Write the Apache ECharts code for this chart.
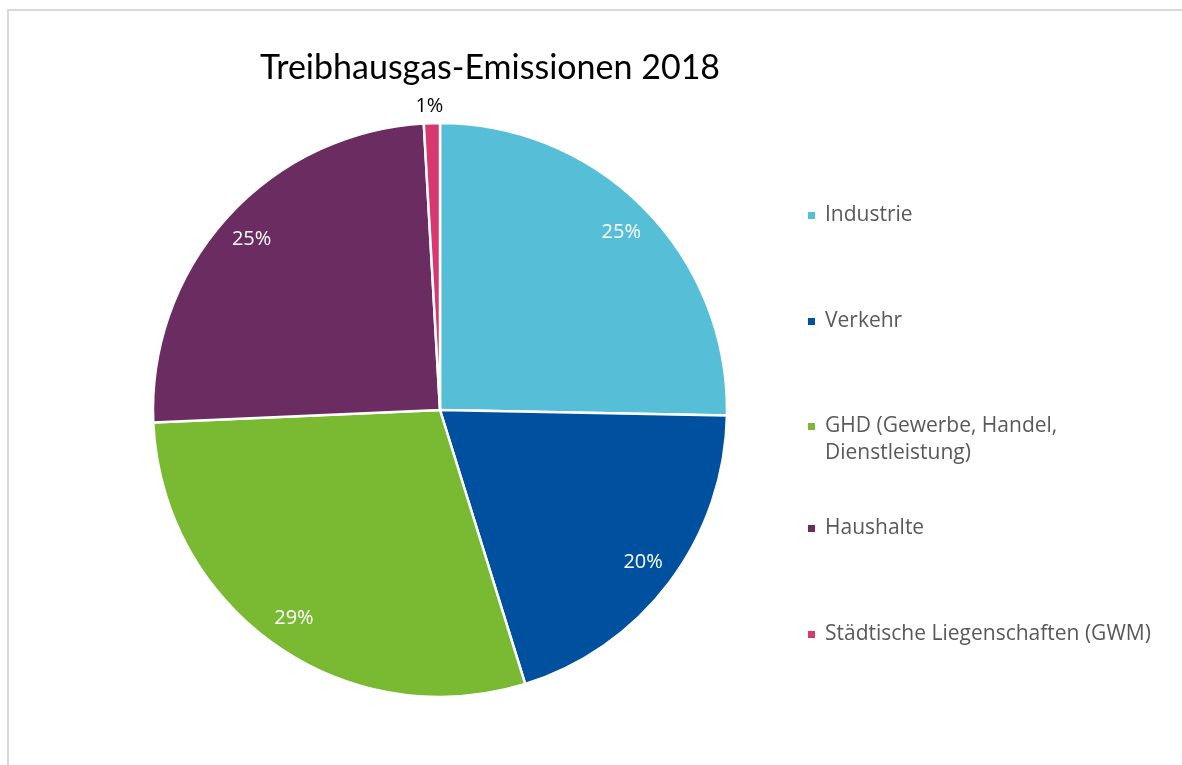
<!DOCTYPE html>
<html>
<head>
<meta charset="utf-8">
<script src="https://cdn.jsdelivr.net/npm/echarts@6/dist/echarts.min.js"></script>
<style>
  html, body { margin: 0; padding: 0; background: #fff; }
  #chart { width: 1182px; height: 765px; }
</style>
</head>
<body>
<div id="chart"></div>
<script>
// data (shares in percent)
const categories = ['Industrie', 'Verkehr', 'GHD (Gewerbe, Handel, Dienstleistung)', 'Haushalte', 'Städtische Liegenschaften (GWM)']
const shares = [25.3, 19.9, 29.1, 24.8, 0.9]
const colors = ['#56BFD7', '#0050A0', '#7AB932', '#6B2C61', '#D6386F']
// legend text as wrapped in the picture (blank first line keeps the marker on the first text line)
const legendLabels = ['Industrie', 'Verkehr', ' \nGHD (Gewerbe, Handel,\nDienstleistung)', 'Haushalte', 'Städtische Liegenschaften (GWM)']

// layout of the legend rows
const legendTops = [202, 308, 386, 515, 621]

const chart = echarts.init(document.getElementById('chart'))

const pieData = categories.map((name, i) => ({
  name: name,
  value: shares[i],
  itemStyle: { color: colors[i] }
}))

const labelData = categories.map((name, i) => {
  const item = { name: name, value: shares[i] }
  if (shares[i] < 2) {
    item.label = {
      position: 'outside',
      color: '#000',
      padding: 0,
      distanceToLabelLine: -12
    }
    item.labelLine = { show: false, length: 17, length2: 0 }
  }
  return item
})

const legends = categories.map((name, i) => ({
  data: [name],
  orient: 'vertical',
  left: 806,
  top: legendTops[i],
  padding: 0,
  icon: 'rect',
  itemWidth: 9,
  itemHeight: 9,
  selectedMode: false,
  formatter: () => legendLabels[i],
  textStyle: {
    fontFamily: 'Open Sans',
    fontSize: 21,
    color: '#595959',
    lineHeight: 27,
    padding: [0, 0, 0, 4]
  }
}))

chart.setOption({
  animation: false,
  title: {
    text: 'Treibhausgas-Emissionen 2018',
    left: 485,
    top: 46,
    textAlign: 'center',
    textStyle: {
      fontFamily: 'Lato',
      fontWeight: 'normal',
      fontSize: 34,
      color: '#000'
    }
  },
  graphic: [{
    type: 'rect',
    shape: { x: 8, y: 10, width: 1200, height: 800 },
    style: { fill: 'none', stroke: '#d9d9d9', lineWidth: 2 },
    silent: true
  }],
  legend: legends,
  series: [
    {
      name: 'Emissionen',
      type: 'pie',
      center: [440, 410],
      radius: [0, 287],
      startAngle: 90,
      data: pieData,
      label: { show: false },
      labelLine: { show: false },
      itemStyle: { borderColor: '#fff', borderWidth: 2.5 }
    },
    {
      // ring over the outer part of the pie, only to place the percent labels
      name: 'Anteile',
      type: 'pie',
      center: [440, 410],
      radius: [215, 287],
      startAngle: 90,
      silent: true,
      legendHoverLink: false,
      avoidLabelOverlap: false,
      data: labelData,
      itemStyle: { color: 'rgba(0,0,0,0)' },
      label: {
        show: true,
        position: 'inside',
        formatter: (p) => Math.round(p.value) + '%',
        fontFamily: 'Open Sans',
        fontSize: 20,
        padding: [5, 0, 0, 0],
        color: '#fff'
      },
      labelLine: { show: false }
    }
  ]
})
</script>
</body>
</html>
